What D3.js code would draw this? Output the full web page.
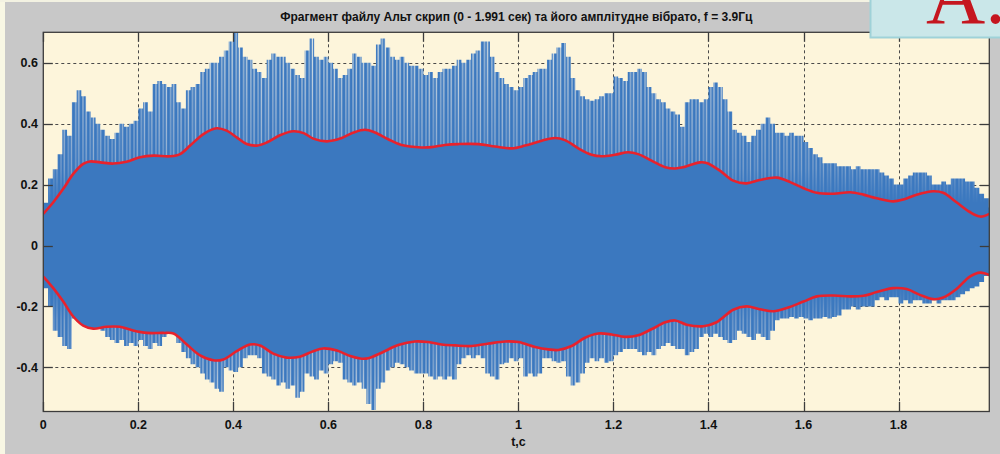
<!DOCTYPE html>
<html>
<head>
<meta charset="utf-8">
<script src="https://cdn.jsdelivr.net/npm/d3@7"></script>
<style>
  html, body { margin: 0; padding: 0; background: #c8c8c8; }
  svg { display: block; }
</style>
</head>
<body>
<svg id="chart" width="1000" height="454"></svg>
<script>
// ---- data -------------------------------------------------------------
const titleText = "Фрагмент файлу Альт скрип (0 - 1.991 сек) та його амплітудне вібрато, f = 3.9Гц";
const xLabel = "t,c";
const badgeText = "A.";
const duration = 1.991;               // seconds shown on the time axis
const xTicks = [0, 0.2, 0.4, 0.6, 0.8, 1, 1.2, 1.4, 1.6, 1.8];
const yTicks = [-0.4, -0.2, 0, 0.2, 0.4, 0.6];
const yMin = -0.545, yMax = 0.70;

// waveform extremes per 10 ms block (block start times are i * 0.01 s)
const blockSize = 0.01;
const upperPeak = [
  0.14,0.22,0.25,0.30,0.38,0.36,0.47,0.51,0.49,0.44,
  0.42,0.40,0.38,0.36,0.35,0.37,0.40,0.39,0.40,0.41,
  0.45,0.47,0.44,0.53,0.54,0.53,0.52,0.53,0.47,0.45,
  0.51,0.52,0.53,0.57,0.58,0.60,0.60,0.62,0.64,0.67,
  0.70,0.65,0.62,0.61,0.58,0.57,0.55,0.61,0.63,0.62,
  0.62,0.60,0.58,0.56,0.55,0.64,0.68,0.62,0.61,0.62,
  0.60,0.58,0.55,0.56,0.58,0.63,0.62,0.60,0.60,0.59,
  0.66,0.68,0.65,0.62,0.61,0.62,0.60,0.59,0.59,0.58,
  0.56,0.57,0.55,0.57,0.58,0.58,0.59,0.61,0.60,0.61,
  0.63,0.64,0.67,0.67,0.62,0.57,0.55,0.53,0.52,0.51,
  0.52,0.55,0.56,0.57,0.58,0.58,0.61,0.63,0.65,0.665,
  0.62,0.55,0.51,0.49,0.48,0.475,0.48,0.49,0.50,0.50,
  0.555,0.55,0.54,0.57,0.57,0.58,0.57,0.52,0.50,0.48,
  0.47,0.45,0.44,0.43,0.39,0.47,0.48,0.48,0.47,0.48,
  0.52,0.535,0.52,0.48,0.44,0.38,0.37,0.36,0.34,0.36,
  0.38,0.40,0.42,0.40,0.37,0.37,0.36,0.37,0.36,0.36,
  0.34,0.32,0.30,0.29,0.27,0.27,0.27,0.26,0.26,0.26,
  0.25,0.26,0.25,0.25,0.25,0.25,0.24,0.23,0.22,0.20,
  0.20,0.22,0.23,0.24,0.24,0.24,0.23,0.20,0.20,0.21,
  0.20,0.22,0.22,0.22,0.21,0.21,0.19,0.17,0.155,0.125
];
const lowerPeak = [
  -0.14,-0.20,-0.28,-0.30,-0.33,-0.34,-0.24,-0.25,-0.23,-0.23,
  -0.22,-0.23,-0.28,-0.30,-0.31,-0.32,-0.31,-0.33,-0.32,-0.33,
  -0.31,-0.33,-0.34,-0.32,-0.33,-0.30,-0.27,-0.25,-0.32,-0.35,
  -0.37,-0.39,-0.40,-0.42,-0.44,-0.45,-0.47,-0.48,-0.40,-0.41,
  -0.415,-0.40,-0.37,-0.36,-0.36,-0.37,-0.42,-0.43,-0.44,-0.46,
  -0.45,-0.47,-0.46,-0.50,-0.48,-0.42,-0.43,-0.44,-0.41,-0.42,
  -0.39,-0.38,-0.385,-0.44,-0.45,-0.46,-0.45,-0.47,-0.52,-0.54,
  -0.47,-0.45,-0.41,-0.40,-0.385,-0.39,-0.40,-0.41,-0.42,-0.42,
  -0.42,-0.43,-0.44,-0.43,-0.44,-0.43,-0.44,-0.39,-0.37,-0.36,
  -0.37,-0.36,-0.37,-0.42,-0.43,-0.44,-0.39,-0.385,-0.37,-0.38,
  -0.37,-0.43,-0.42,-0.43,-0.42,-0.37,-0.37,-0.38,-0.385,-0.38,
  -0.43,-0.46,-0.45,-0.42,-0.385,-0.37,-0.38,-0.37,-0.385,-0.38,
  -0.36,-0.35,-0.34,-0.34,-0.34,-0.35,-0.36,-0.35,-0.36,-0.34,
  -0.33,-0.32,-0.33,-0.34,-0.34,-0.36,-0.35,-0.34,-0.30,-0.29,
  -0.30,-0.29,-0.30,-0.31,-0.32,-0.31,-0.28,-0.29,-0.30,-0.31,
  -0.29,-0.30,-0.31,-0.28,-0.245,-0.24,-0.24,-0.235,-0.24,-0.235,
  -0.24,-0.245,-0.24,-0.24,-0.235,-0.24,-0.235,-0.23,-0.21,-0.21,
  -0.20,-0.21,-0.20,-0.20,-0.20,-0.18,-0.17,-0.18,-0.17,-0.17,
  -0.19,-0.18,-0.19,-0.18,-0.18,-0.19,-0.19,-0.18,-0.19,-0.18,
  -0.18,-0.18,-0.17,-0.16,-0.15,-0.14,-0.135,-0.12,-0.10,-0.08
];

// amplitude-vibrato envelope (upper and lower)
const envUpperT = [0,0.021,0.042,0.063,0.084,0.098,0.12,0.147,0.175,0.204,0.232,0.267,0.288,0.309,0.337,0.365,0.386,0.407,0.428,0.449,0.47,0.498,0.526,0.548,0.568,0.597,0.625,0.653,0.677,0.698,0.726,0.754,0.796,0.817,0.845,0.874,0.916,0.951,0.986,1.014,1.049,1.077,1.098,1.126,1.154,1.175,1.203,1.231,1.252,1.281,1.309,1.33,1.347,1.382,1.396,1.424,1.452,1.48,1.508,1.544,1.572,1.6,1.628,1.663,1.698,1.726,1.754,1.789,1.81,1.838,1.873,1.894,1.922,1.95,1.972,1.991];
const envUpperV = [0.104,0.142,0.186,0.235,0.268,0.276,0.273,0.269,0.275,0.29,0.295,0.293,0.3,0.328,0.366,0.385,0.377,0.355,0.333,0.328,0.338,0.362,0.375,0.369,0.351,0.342,0.351,0.371,0.38,0.371,0.349,0.33,0.322,0.323,0.33,0.333,0.333,0.325,0.319,0.328,0.344,0.353,0.346,0.319,0.298,0.293,0.298,0.306,0.3,0.278,0.257,0.253,0.257,0.273,0.271,0.246,0.213,0.204,0.215,0.223,0.208,0.188,0.173,0.17,0.175,0.167,0.155,0.145,0.151,0.167,0.178,0.173,0.142,0.11,0.095,0.104];
const envLowerT = [0,0.021,0.042,0.063,0.084,0.105,0.133,0.161,0.189,0.218,0.253,0.274,0.302,0.33,0.358,0.379,0.407,0.435,0.456,0.484,0.512,0.54,0.568,0.589,0.618,0.646,0.667,0.684,0.712,0.747,0.782,0.81,0.838,0.867,0.902,0.937,0.972,1.0,1.035,1.063,1.084,1.112,1.14,1.168,1.196,1.224,1.252,1.281,1.309,1.33,1.354,1.389,1.417,1.452,1.48,1.508,1.537,1.565,1.6,1.628,1.663,1.698,1.726,1.754,1.789,1.817,1.845,1.873,1.894,1.922,1.95,1.972,1.991];
const envLowerV = [-0.102,-0.14,-0.184,-0.233,-0.263,-0.273,-0.267,-0.267,-0.279,-0.287,-0.287,-0.289,-0.325,-0.361,-0.377,-0.374,-0.347,-0.325,-0.328,-0.355,-0.368,-0.365,-0.347,-0.338,-0.345,-0.363,-0.371,-0.37,-0.352,-0.327,-0.315,-0.317,-0.325,-0.328,-0.33,-0.322,-0.315,-0.317,-0.333,-0.341,-0.343,-0.33,-0.303,-0.289,-0.292,-0.3,-0.295,-0.274,-0.252,-0.246,-0.26,-0.265,-0.252,-0.211,-0.2,-0.209,-0.216,-0.205,-0.184,-0.167,-0.164,-0.167,-0.165,-0.153,-0.14,-0.143,-0.162,-0.176,-0.171,-0.143,-0.102,-0.089,-0.097];

// ---- layout -------------------------------------------------------------
const plot = { left: 43.3, right: 989.3, top: 32.3, bottom: 411.5 };
const colors = {
  figure: "#c8c8c8", axesBg: "#fdf5db", wave: "#3b78bf",
  envelope: "#e8222c", grid: "#4a4a4a", axis: "#3c3c3c", text: "#111"
};

const svg = d3.select("#chart");
const x = d3.scaleLinear().domain([0, duration]).range([plot.left, plot.right]);
const y = d3.scaleLinear().domain([yMin, yMax]).range([plot.bottom, plot.top]);

// figure background with its pale outer rim
svg.append("rect").attr("x", 0).attr("y", 0).attr("width", 1000).attr("height", 454).attr("fill", colors.figure);
svg.append("rect").attr("x", 0).attr("y", 0).attr("width", 5).attr("height", 454).attr("fill", "#f8f7e4");
svg.append("rect").attr("x", 0).attr("y", 0).attr("width", 1000).attr("height", 2).attr("fill", "#f3f2e2");

// axes background
svg.append("rect")
  .attr("x", plot.left).attr("y", plot.top)
  .attr("width", plot.right - plot.left).attr("height", plot.bottom - plot.top)
  .attr("fill", colors.axesBg);

const defs = svg.append("defs");
defs.append("clipPath").attr("id", "plotClip")
  .append("rect").attr("x", plot.left).attr("y", plot.top)
  .attr("width", plot.right - plot.left).attr("height", plot.bottom - plot.top);

// gaps between individual sample strokes get paler away from the centre line
const gapGrad = defs.append("linearGradient").attr("id", "gapShade")
  .attr("gradientUnits", "userSpaceOnUse")
  .attr("x1", 0).attr("x2", 0).attr("y1", plot.top).attr("y2", plot.bottom);
[[0, "#e2e8e6"], [0.18, "#b3c6db"], [0.36, "#86a7cf"], [0.45, colors.wave],
 [0.67, colors.wave], [0.76, "#8aaad0"], [0.9, "#b3c6db"], [1, "#e2e8e6"]]
  .forEach(([o, c]) => gapGrad.append("stop").attr("offset", o).attr("stop-color", c));

const stripes = defs.append("pattern").attr("id", "samples")
  .attr("patternUnits", "userSpaceOnUse").attr("width", 7.3).attr("height", 454);
stripes.append("rect").attr("width", 7.3).attr("height", 454).attr("fill", colors.wave);
stripes.append("rect").attr("x", 2.2).attr("width", 1.0).attr("height", 454).attr("fill", "url(#gapShade)");
stripes.append("rect").attr("x", 5.2).attr("width", 1.3).attr("height", 454).attr("fill", "url(#gapShade)");

// grid (beneath the waveform)
const grid = svg.append("g").attr("stroke", colors.grid).attr("stroke-width", 1)
  .attr("stroke-dasharray", "3,3");
grid.selectAll("line.gx").data(xTicks.filter(d => d > 0)).join("line")
  .attr("x1", d => Math.round(x(d)) + 0.5).attr("x2", d => Math.round(x(d)) + 0.5)
  .attr("y1", plot.top).attr("y2", plot.bottom);
grid.selectAll("line.gy").data(yTicks).join("line")
  .attr("y1", d => Math.round(y(d)) + 0.5).attr("y2", d => Math.round(y(d)) + 0.5)
  .attr("x1", plot.left).attr("x2", plot.right);

// waveform
const blocks = upperPeak.map((u, i) => ({ t: i * blockSize, hi: u, lo: lowerPeak[i] }));
blocks.push({ t: duration, hi: upperPeak[upperPeak.length - 1], lo: lowerPeak[lowerPeak.length - 1] });
const wave = svg.append("g").attr("clip-path", "url(#plotClip)");
wave.append("path")
  .datum(blocks)
  .attr("fill", "url(#samples)")
  .attr("d", d3.area().curve(d3.curveStepAfter).x(d => x(d.t)).y0(d => y(d.lo)).y1(d => y(d.hi)));

const upperEnv = envUpperT.map((t, i) => ({ t, v: envUpperV[i] }));
const lowerEnv = envLowerT.map((t, i) => ({ t, v: envLowerV[i] }));
const envLine = d3.line().curve(d3.curveCatmullRom.alpha(0.5)).x(d => x(d.t)).y(d => y(d.v));

// solid body of the waveform between the two envelope curves
const bodyPath = envLine(upperEnv) + "L" + envLine(lowerEnv.slice().reverse()).slice(1) + "Z";
wave.append("path").attr("d", bodyPath).attr("fill", colors.wave);

// envelope curves
[upperEnv, lowerEnv].forEach(env => {
  wave.append("path").datum(env)
    .attr("fill", "none").attr("stroke", colors.envelope)
    .attr("stroke-width", 2.6).attr("stroke-linejoin", "round")
    .attr("d", envLine);
});

// axes box with inward ticks on all sides
const tickLen = 9.5;
const axisG = svg.append("g").attr("stroke", colors.axis).attr("stroke-width", 1.3).attr("fill", "none");
axisG.append("rect").attr("x", plot.left).attr("y", plot.top)
  .attr("width", plot.right - plot.left).attr("height", plot.bottom - plot.top);
xTicks.forEach(d => {
  const px = Math.round(x(d)) + 0.5;
  axisG.append("line").attr("x1", px).attr("x2", px).attr("y1", plot.bottom).attr("y2", plot.bottom - tickLen);
  axisG.append("line").attr("x1", px).attr("x2", px).attr("y1", plot.top).attr("y2", plot.top + tickLen);
});
yTicks.forEach(d => {
  const py = Math.round(y(d)) + 0.5;
  axisG.append("line").attr("y1", py).attr("y2", py).attr("x1", plot.left).attr("x2", plot.left + tickLen);
  axisG.append("line").attr("y1", py).attr("y2", py).attr("x1", plot.right).attr("x2", plot.right - tickLen);
});

// tick labels
const font = "'Liberation Sans', Arial, sans-serif";
const fmt = d => (d === 0 ? "0" : String(d));
svg.append("g").selectAll("text").data(xTicks).join("text")
  .attr("x", d => x(d)).attr("y", 429)
  .attr("text-anchor", "middle")
  .attr("font-family", font).attr("font-size", 12.5).attr("font-weight", "bold")
  .attr("fill", colors.text).text(fmt);
svg.append("g").selectAll("text").data(yTicks).join("text")
  .attr("x", 38).attr("y", d => y(d) + 4.5)
  .attr("text-anchor", "end")
  .attr("font-family", font).attr("font-size", 12.5).attr("font-weight", "bold")
  .attr("fill", colors.text).text(fmt);

// axis label and title
svg.append("text").attr("x", x(1)).attr("y", 445.5).attr("text-anchor", "middle")
  .attr("font-family", font).attr("font-size", 12.5).attr("font-weight", "bold")
  .attr("fill", colors.text).text(xLabel);
svg.append("text").attr("x", (plot.left + plot.right) / 2).attr("y", 20.5).attr("text-anchor", "middle")
  .attr("font-family", font).attr("font-size", 12).attr("font-weight", "bold")
  .attr("fill", colors.text).text(titleText);

// corner badge
svg.append("rect").attr("x", 870.5).attr("y", -2).attr("width", 132).attr("height", 39.5)
  .attr("fill", "#cae7e9").attr("stroke", "#9fd2d8").attr("stroke-width", 2);
svg.append("text").attr("x", 926).attr("y", 22.5)
  .attr("font-family", "'Liberation Serif', 'Times New Roman', serif").attr("font-size", 82)
  .attr("fill", "#c5161f").text(badgeText);
</script>
</body>
</html>
